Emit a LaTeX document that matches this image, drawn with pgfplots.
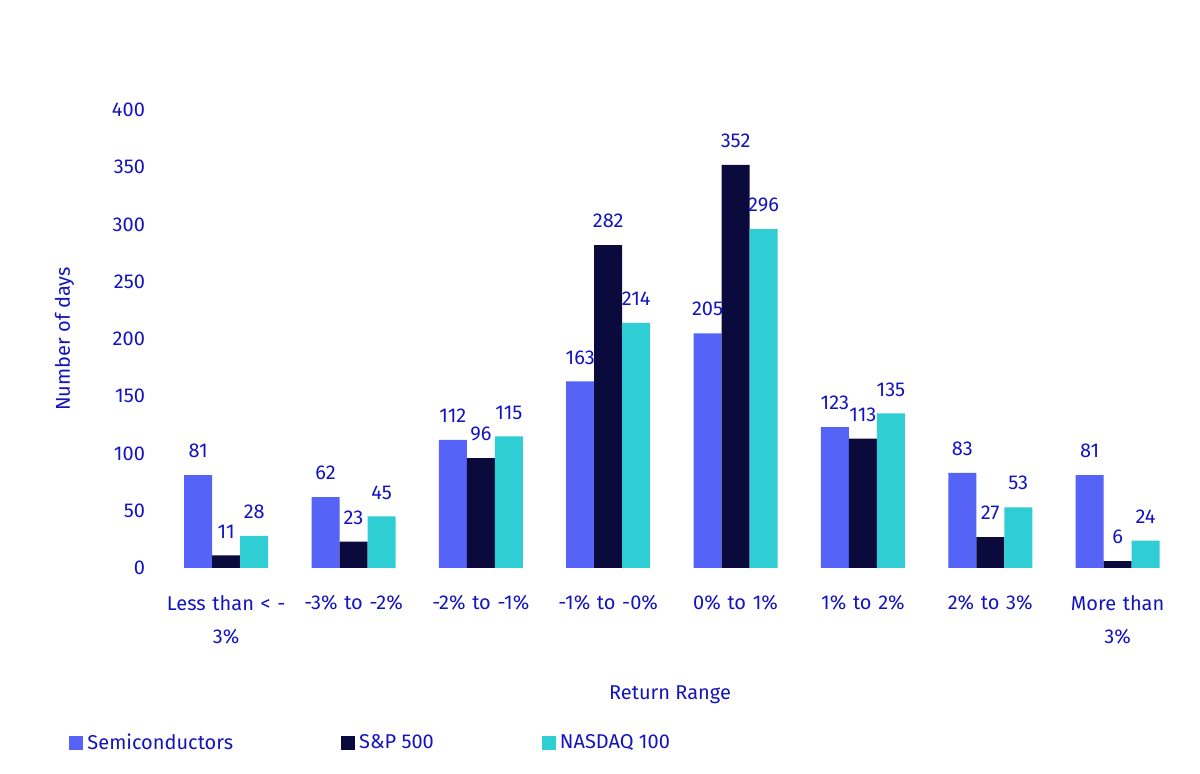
\documentclass[border=0pt]{standalone}
\usepackage{pgfplots}
\pgfplotsset{compat=1.18}
\usepackage{fontspec}
\setmainfont{Fira Sans}
\definecolor{txt}{RGB}{20,20,190}
\definecolor{semi}{RGB}{85,99,247}
\definecolor{snp}{RGB}{10,10,60}
\definecolor{ndq}{RGB}{46,206,212}
\begin{document}
\begin{tikzpicture}[x=1pt,y=1pt]
\useasboundingbox (0,0) rectangle (600,387);
\begin{axis}[
  at={(80pt,103pt)}, anchor=south west,
  scale only axis, width=510pt, height=229pt,
  ymin=0, ymax=400, xmin=-0.52, xmax=7.49,
  ybar, bar width=14pt,
  axis line style={draw=none}, tick style={draw=none},
  ytick={0,50,...,400},
  xtick={0,...,7},
  xticklabels={Less than < -\\3\%,-3\% to -2\%,-2\% to -1\%,-1\% to -0\%,0\% to 1\%,1\% to 2\%,2\% to 3\%,More than\\3\%},
  xticklabel style={align=center, text width=70pt, font=\fontsize{10}{16.5}\selectfont, yshift=-6pt},
  yticklabel style={font=\fontsize{10}{12}\selectfont, xshift=-4pt},
  /pgf/number format/assume math mode=true,
  ticklabel style={text=txt},
  xlabel={Return Range}, ylabel={Number of days},
  label style={text=txt, font=\fontsize{10}{12}\selectfont},
  xlabel style={yshift=-14pt},
  ylabel style={yshift=12pt},
  nodes near coords,
  every node near coord/.append style={text=txt, font=\fontsize{10}{12}\selectfont, yshift=5pt},
  legend style={at={(-0.095,-0.382)}, anchor=west, draw=none, legend columns=3,
    /tikz/every even column/.append style={column sep=52pt},
    font=\fontsize{10}{12}\selectfont, text=txt},
  legend image code/.code={\fill[#1] (0pt,-3.5pt) rectangle (7pt,3.5pt);},
]
\addplot[fill=semi, draw=none, bar shift=-14pt] coordinates {(0,81)(1,62)(2,112)(3,163)(4,205)(5,123)(6,83)(7,81)};
\addplot[fill=snp, draw=none, bar shift=0pt] coordinates {(0,11)(1,23)(2,96)(3,282)(4,352)(5,113)(6,27)(7,6)};
\addplot[fill=ndq, draw=none, bar shift=14pt] coordinates {(0,28)(1,45)(2,115)(3,214)(4,296)(5,135)(6,53)(7,24)};
\legend{Semiconductors,S\&P 500,NASDAQ 100}
\end{axis}
\end{tikzpicture}
\end{document}
